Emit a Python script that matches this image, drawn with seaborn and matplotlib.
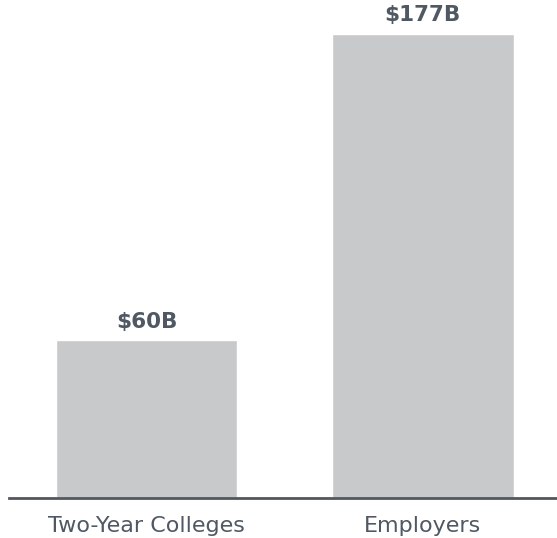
import matplotlib
matplotlib.use("Agg")
import matplotlib.pyplot as plt
import seaborn as sns
import pandas as pd

categories = ["Two-Year Colleges", "Employers"]
values = [60, 177]
value_labels = ["$60B", "$177B"]

bar_color = "#c8c9cb"
text_color = "#4f5863"

sns.set_style("white")
plt.rcParams["font.family"] = ["DejaVu Sans"]

df = pd.DataFrame({"category": categories, "value": values})

fig = plt.figure(figsize=(5.57, 5.38), dpi=100)
ax = fig.add_axes([9 / 557, (538 - 497.6) / 538, 548 / 557, 497.6 / 538])

sns.barplot(data=df, x="category", y="value", color=bar_color, width=0.657,
            saturation=1, ax=ax)

ax.set_xlim(-0.499, 1.486)
ax.set_ylim(0, 189.8)

for i, (v, lab) in enumerate(zip(values, value_labels)):
    ax.annotate(lab, xy=(i, v), xytext=(0, 13.3), textcoords="offset points",
                ha="center", va="center", fontsize=15.5, fontweight="bold",
                color=text_color)

for s in ["top", "left", "right"]:
    ax.spines[s].set_visible(False)
ax.spines["bottom"].set_color("#50575f")
ax.spines["bottom"].set_linewidth(2)

ax.set_xlabel("")
ax.set_ylabel("")
ax.set_yticks([])
ax.tick_params(axis="x", length=0, pad=13.5, labelsize=16, labelcolor=text_color)

fig.savefig("out.png", dpi=100)
